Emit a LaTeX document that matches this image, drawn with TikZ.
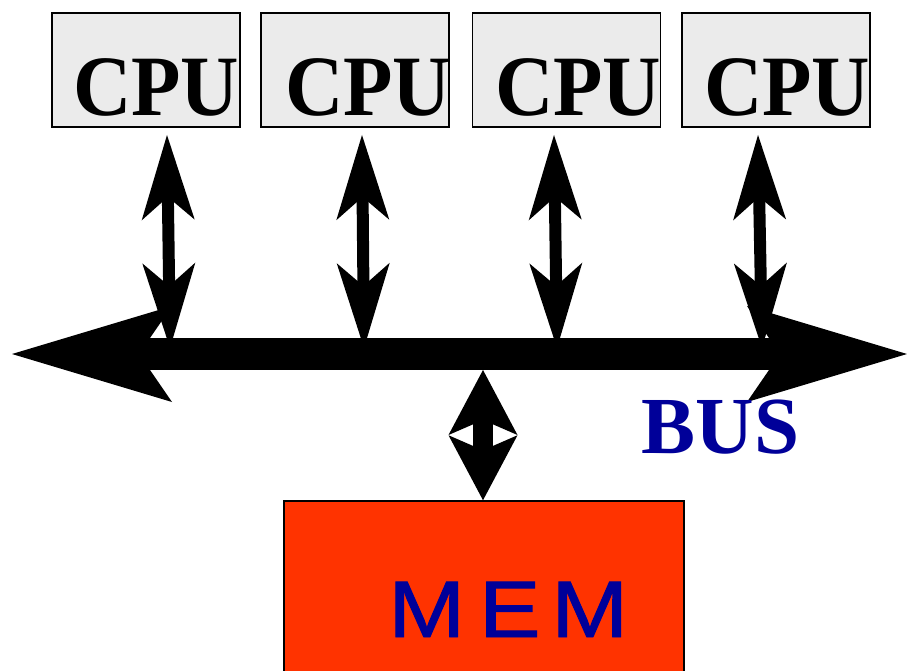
\documentclass[tikz,border=0pt]{standalone}
\usepackage{fontspec}
\setmainfont{Liberation Serif}
\newfontfamily\memfont[FakeBold=1.2]{Liberation Sans}
\usetikzlibrary{arrows.meta}
\definecolor{cpugray}{RGB}{235,235,235}
\definecolor{membg}{RGB}{255,51,0}
\definecolor{labelblue}{RGB}{0,0,153}
\tikzset{
  bushead/.tip={Stealth[length=160pt,width=96pt,inset=33pt,line width=0pt]},
  cpuhead/.tip={Stealth[length=85pt,width=53pt,inset=23pt,line width=0pt]},
  memhead/.tip={Stealth[length=65pt,width=69pt,inset=15pt,line width=0pt]},
}
\begin{document}
\begin{tikzpicture}[x=1pt,y=-1pt,
  cpubox/.style={draw=black,line width=1.5pt,fill=cpugray,
    minimum width=188pt,minimum height=114pt,inner sep=0pt},
  cputext/.style={anchor=base west,inner sep=0pt,
    font=\fontsize{86}{86}\selectfont\bfseries},
  membox/.style={draw=black,line width=1.5pt,fill=membg,
    minimum width=400pt,minimum height=180pt,inner sep=0pt},
  bigtext/.style={anchor=base west,inner sep=0pt,text=labelblue},
  busline/.style={line width=32pt,bushead-bushead},
  cpulink/.style={line width=12pt,cpuhead-cpuhead},
  memlink/.style={line width=20pt,memhead-memhead},
]
\useasboundingbox (0,0) rectangle (907,671);

% processors
\node[cpubox] (cpu1) at (146,70) {};
\node[cpubox] (cpu2) at (355,70) {};
\node[cpubox] (cpu3) at (566.5,70) {};
\node[cpubox] (cpu4) at (776,70) {};
\node[cputext] (cpu1txt) at (73,116) {\scalebox{0.94}[1]{CPU}};
\node[cputext] (cpu2txt) at (285,116) {\scalebox{0.94}[1]{CPU}};
\node[cputext] (cpu3txt) at (495,116) {\scalebox{0.94}[1]{CPU}};
\node[cputext] (cpu4txt) at (704,116) {\scalebox{0.94}[1]{CPU}};

% memory
\node[membox] (mem) at (484,591) {};
\node[bigtext,font=\fontsize{80}{80}\memfont] (memtxt) at (388.2,637)
  {\scalebox{1.15}[1]{M\hspace{12.3pt}E\hspace{9.5pt}M}};

% bus
\coordinate (busL) at (12,354);
\coordinate (busR) at (907,354);
\draw[busline] (busL) -- (busR);
\node[bigtext,font=\fontsize{81}{81}\selectfont\bfseries] (bustxt) at (641.7,453) {BUS};

% processor links
\coordinate (a1top) at (167,135);
\coordinate (a1bus) at (170,348);
\coordinate (a2top) at (362,135);
\coordinate (a2bus) at (364,348);
\coordinate (a3top) at (554,135);
\coordinate (a3bus) at (557,348);
\coordinate (a4top) at (758,135);
\coordinate (a4bus) at (762,348);
\draw[cpulink] (a1top) -- (a1bus);
\draw[cpulink] (a2top) -- (a2bus);
\draw[cpulink] (a3top) -- (a3bus);
\draw[cpulink] (a4top) -- (a4bus);

% memory link
\coordinate (membus) at (483,370);
\draw[memlink] (membus) -- (mem.north -| membus);
\end{tikzpicture}
\end{document}
